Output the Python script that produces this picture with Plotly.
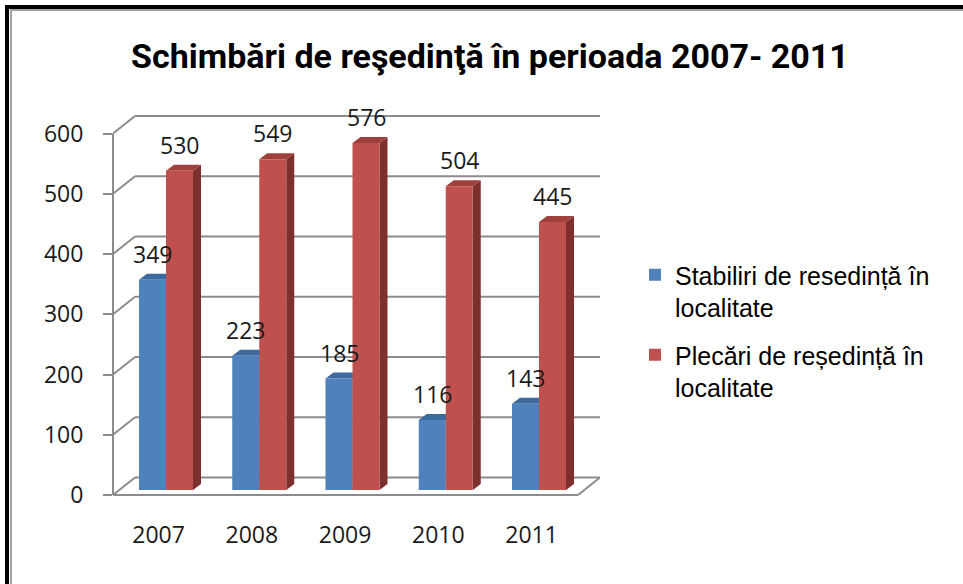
import plotly.graph_objects as go

# ---------------- data ----------------
years = ["2007", "2008", "2009", "2010", "2011"]
stabiliri = [349, 223, 185, 116, 143]
plecari = [530, 549, 576, 504, 445]
series_names = ["Stabiliri de resedin\u021b\u0103 \u00een<br>localitate",
                "Plec\u0103ri de re\u0219edin\u021b\u0103 \u00een<br>localitate"]
title_text = "Schimb\u0103ri de re\u015fedin\u0163\u0103 \u00een perioada 2007- 2011"
y_ticks = [0, 100, 200, 300, 400, 500, 600]

# ---------------- geometry / style ----------------
W_PX, H_PX = 963, 584
KX = 93.25          # px per category unit
KY = 0.6025         # px per value unit
L_PX, R_PX, TOP_PX, BOT_PX = 113, 600, 100, 505
GROUP0_PX = 166
BAR_ZERO_PX = 490
FRONT_ZERO_PX = 495
BACK_ZERO_PX = 477.5

X0 = -(GROUP0_PX - L_PX) / KX
X1 = X0 + (R_PX - L_PX) / KX
Y0 = -(BOT_PX - BAR_ZERO_PX) / KY
Y1 = Y0 + (BOT_PX - TOP_PX) / KY
Y2_0 = -(BOT_PX - FRONT_ZERO_PX) / KY
Y2_1 = Y2_0 + (BOT_PX - TOP_PX) / KY
FRONT_OFF = -(FRONT_ZERO_PX - BAR_ZERO_PX) / KY
BACK_OFF = (BAR_ZERO_PX - BACK_ZERO_PX) / KY
WALL_DX = 22 / KX
FLOOR_FR = X0 + (578 - L_PX) / KX
BAR_W = 27 / KX
BAR_DX = 8 / KX
BAR_DY = 6 / KY

BLUE, BLUE_TOP, BLUE_SIDE = "#4F81BD", "#3C6A9F", "#385D8A"
RED, RED_TOP, RED_SIDE = "#C0504D", "#A0403D", "#7D302E"
GRID = "#8C8C8C"
NUM_FONT = dict(family="Open Sans", size=23, color="#1a1a1a")

idx = list(range(len(years)))


def px_x(px):
    return (px - L_PX) / (R_PX - L_PX)


def px_y(py):
    return (BOT_PX - py) / (BOT_PX - TOP_PX)


fig = go.Figure()
fig.add_trace(go.Bar(x=idx, y=stabiliri, name=series_names[0], width=BAR_W,
                     offset=-BAR_W, marker=dict(color=BLUE, line=dict(width=0)),
                     legendgroup="a", hoverinfo="skip"))
fig.add_trace(go.Bar(x=idx, y=plecari, name=series_names[1], width=BAR_W,
                     offset=0, marker=dict(color=RED, line=dict(width=0)),
                     legendgroup="b", hoverinfo="skip"))

shapes = []
# back-wall gridlines and left-wall diagonals
for v in y_ticks:
    shapes.append(dict(type="line", xref="x", yref="y", layer="below",
                       x0=X0 + WALL_DX, x1=X1, y0=v + BACK_OFF, y1=v + BACK_OFF,
                       line=dict(color=GRID, width=2)))
    shapes.append(dict(type="line", xref="x", yref="y", layer="below",
                       x0=X0, x1=X0 + WALL_DX, y0=v + FRONT_OFF, y1=v + BACK_OFF,
                       line=dict(color=GRID, width=2)))
# floor front edge and right edge
shapes.append(dict(type="line", xref="x", yref="y", layer="below",
                   x0=X0, x1=FLOOR_FR, y0=FRONT_OFF, y1=FRONT_OFF,
                   line=dict(color=GRID, width=2)))
shapes.append(dict(type="line", xref="x", yref="y", layer="below",
                   x0=FLOOR_FR, x1=X1, y0=FRONT_OFF, y1=BACK_OFF,
                   line=dict(color=GRID, width=2)))
# front vertical axis
shapes.append(dict(type="line", xref="paper", yref="y", layer="below",
                   x0=0, x1=0, y0=FRONT_OFF, y1=y_ticks[-1] + FRONT_OFF,
                   line=dict(color=GRID, width=2)))


def faces(i, v, left, top_col, side_col):
    xl = i + left
    xr = xl + BAR_W
    top = (f"M{xl},{v} L{xr},{v} L{xr + BAR_DX},{v + BAR_DY} "
           f"L{xl + BAR_DX},{v + BAR_DY} Z")
    side = (f"M{xr},0 L{xr},{v} L{xr + BAR_DX},{v + BAR_DY} "
            f"L{xr + BAR_DX},{BAR_DY} Z")
    return [dict(type="path", xref="x", yref="y", layer="between", path=side,
                 fillcolor=side_col, line=dict(width=0)),
            dict(type="path", xref="x", yref="y", layer="between", path=top,
                 fillcolor=top_col, line=dict(width=0))]


for i, v in zip(idx, stabiliri):
    shapes += faces(i, v, -BAR_W, BLUE_TOP, BLUE_SIDE)
for i, v in zip(idx, plecari):
    shapes += faces(i, v, 0, RED_TOP, RED_SIDE)

# outer frame
shapes.append(dict(type="line", xref="paper", yref="paper",
                   x0=px_x(7), x1=px_x(7), y0=px_y(5), y1=px_y(600),
                   line=dict(color="black", width=4)))
shapes.append(dict(type="line", xref="paper", yref="paper",
                   x0=px_x(5), x1=px_x(970), y0=px_y(7), y1=px_y(7),
                   line=dict(color="black", width=4)))
shapes.append(dict(type="line", xref="paper", yref="paper",
                   x0=px_x(11), x1=px_x(11), y0=px_y(10), y1=px_y(600),
                   line=dict(color="#A0A0A0", width=2)))
shapes.append(dict(type="line", xref="paper", yref="paper",
                   x0=px_x(10), x1=px_x(970), y0=px_y(10), y1=px_y(10),
                   line=dict(color="#A0A0A0", width=2)))

annotations = []
for i, v in zip(idx, stabiliri):
    annotations.append(dict(x=i - BAR_W / 2, y=v, xref="x", yref="y", text=str(v),
                            showarrow=False, yanchor="middle", yshift=26, font=NUM_FONT))
for i, v in zip(idx, plecari):
    annotations.append(dict(x=i + BAR_W / 2, y=v, xref="x", yref="y", text=str(v),
                            showarrow=False, yanchor="middle", yshift=26, font=NUM_FONT))

fig.update_layout(
    width=W_PX, height=H_PX,
    margin=dict(l=L_PX, r=W_PX - R_PX, t=TOP_PX, b=H_PX - BOT_PX, autoexpand=False),
    paper_bgcolor="white", plot_bgcolor="white",
    title=dict(text=title_text, x=490 / W_PX, xanchor="center", xref="container",
               y=1 - 56 / H_PX, yanchor="middle", yref="container",
               font=dict(family="Roboto", size=34, weight="bold", color="black")),
    barmode="overlay",
    showlegend=True,
    legend=dict(x=635 / W_PX, xref="container", xanchor="left",
                y=1 - 252 / H_PX, yref="container", yanchor="top",
                font=dict(family="Liberation Sans", size=25, color="black"),
                traceorder="grouped", tracegroupgap=12, valign="top",
                bgcolor="rgba(0,0,0,0)"),
    xaxis=dict(range=[X0, X1], showgrid=False, zeroline=False, showline=False,
               tickvals=[i - 0.08 for i in idx], ticktext=years, ticks="",
               tickfont=NUM_FONT, ticklabelstandoff=14, fixedrange=True),
    yaxis=dict(range=[Y0, Y1], visible=False, fixedrange=True),
    yaxis2=dict(range=[Y2_0, Y2_1], overlaying="y", side="left", showgrid=False,
                zeroline=False, showline=False, tickvals=y_ticks,
                ticks="outside", ticklen=9, tickwidth=2, tickcolor=GRID,
                tickfont=NUM_FONT, ticklabelstandoff=15, fixedrange=True),
    shapes=shapes, annotations=annotations,
)
# invisible helper trace so the tick axis (yaxis2) is drawn
fig.add_trace(go.Scatter(x=[X0], y=[0], yaxis="y2", mode="markers",
                         marker=dict(opacity=0), showlegend=False, hoverinfo="skip"))

fig.write_html("out.html", config={"displayModeBar": False},
               post_script="document.body.style.margin='0';document.body.style.overflow='hidden';")
